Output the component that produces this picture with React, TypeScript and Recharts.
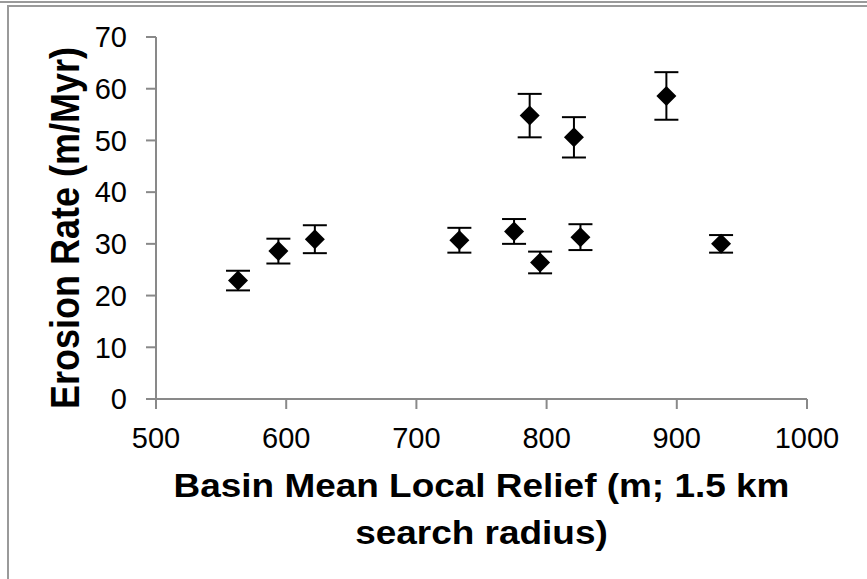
import { ScatterChart, Scatter, XAxis, YAxis, ErrorBar, Label } from 'recharts'

const RELIEF = [563, 594, 622, 733, 775, 787, 795, 821, 826, 892, 934]
const EROSION = [22.9, 28.6, 30.9, 30.7, 32.4, 54.8, 26.4, 50.6, 31.3, 58.6, 30.0]
const EROSION_ERR = [1.9, 2.4, 2.7, 2.4, 2.4, 4.2, 2.1, 3.9, 2.5, 4.6, 1.7]
const X_TICKS = [500, 600, 700, 800, 900, 1000]
const Y_TICKS = [0, 10, 20, 30, 40, 50, 60, 70]

const data = RELIEF.map((x, i) => ({ x, y: EROSION[i], err: EROSION_ERR[i] }))

const FONT = '"Liberation Sans", Arial, sans-serif'
const AXIS = '#898989'

function Diamond(props: any) {
  const { cx, cy } = props
  if (cx == null || cy == null) return null
  const r = 10
  return <polygon points={`${cx},${cy - r} ${cx + r},${cy} ${cx},${cy + r} ${cx - r},${cy}`} fill="#000" />
}

function XTitle(props: any) {
  const { x, y, width } = props.viewBox
  const cx = x + width / 2
  return (
    <g transform={`translate(${cx},0) scale(1.12,1)`}>
      <text x={0} y={y + 98} textAnchor="middle" fontFamily={FONT} fontWeight="bold" fontSize={33} fill="#000">
        Basin Mean Local Relief (m; 1.5 km
      </text>
      <text x={0} y={y + 145} textAnchor="middle" fontFamily={FONT} fontWeight="bold" fontSize={33} fill="#000">
        search radius)
      </text>
    </g>
  )
}

function YTitle(props: any) {
  const { y, height } = props.viewBox
  const cy = y + height / 2 + 10
  return (
    <g transform={`translate(79,${cy}) rotate(-90) scale(1,1.15)`}>
      <text x={0} y={0} textAnchor="middle" fontFamily={FONT} fontWeight="bold" fontSize={36} fill="#000">
        Erosion Rate (m/Myr)
      </text>
    </g>
  )
}

export default function App() {
  return (
    <div style={{ position: 'absolute', left: 0, top: 0, width: 867, height: 579, background: '#fff', overflow: 'hidden' }}>
      <div style={{ position: 'absolute', left: 0, top: 1, width: 867, height: 2, background: '#9a9a9a' }} />
      <div style={{ position: 'absolute', left: 7, top: 5, width: 860, height: 2, background: '#9a9a9a' }} />
      <div style={{ position: 'absolute', left: 7, top: 5, width: 2, height: 574, background: '#9a9a9a' }} />
      <div style={{ position: 'absolute', left: 0, top: 0 }}>
        <ScatterChart width={867} height={579} margin={{ top: 37, right: 60, bottom: 130, left: 56 }}>
          <XAxis
            type="number"
            dataKey="x"
            domain={[500, 1000]}
            ticks={X_TICKS}
            height={50}
            tickSize={10}
            tickMargin={18}
            axisLine={{ stroke: AXIS, strokeWidth: 2 }}
            tickLine={{ stroke: AXIS, strokeWidth: 2 }}
            tick={{ fill: '#000', fontSize: 29, fontFamily: FONT }}
            interval={0}
          >
            <Label content={XTitle} />
          </XAxis>
          <YAxis
            type="number"
            dataKey="y"
            domain={[0, 70]}
            ticks={Y_TICKS}
            width={100}
            tickSize={10}
            tickMargin={19}
            axisLine={{ stroke: AXIS, strokeWidth: 2 }}
            tickLine={{ stroke: AXIS, strokeWidth: 2 }}
            tick={{ fill: '#000', fontSize: 29, fontFamily: FONT }}
            interval={0}
          >
            <Label content={YTitle} />
          </YAxis>
          <Scatter data={data} shape={Diamond} isAnimationActive={false}>
            <ErrorBar dataKey="err" direction="y" width={12} stroke="#000" strokeWidth={2} isAnimationActive={false} />
          </Scatter>
        </ScatterChart>
      </div>
    </div>
  )
}
